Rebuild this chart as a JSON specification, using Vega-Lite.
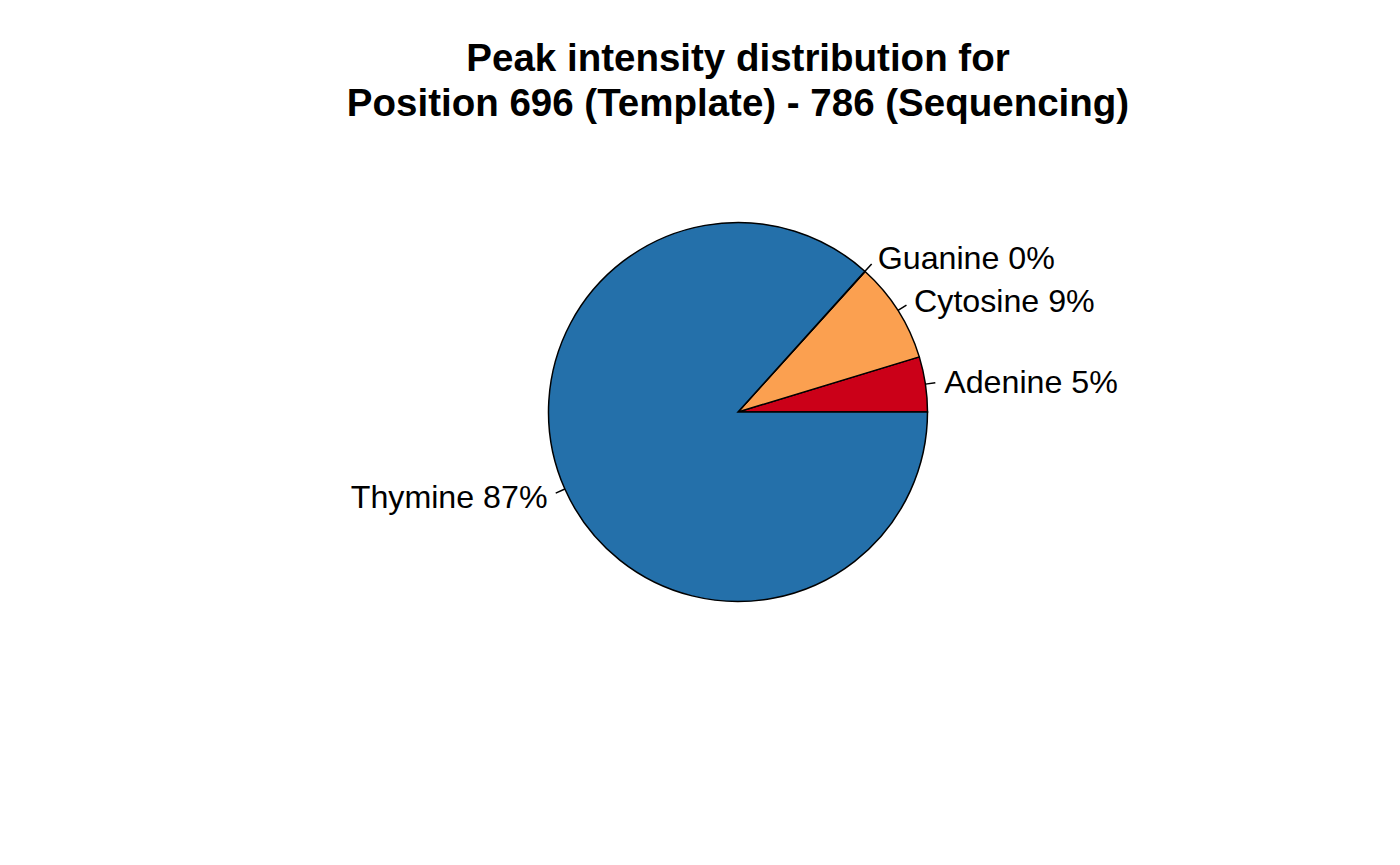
{
  "$schema": "https://vega.github.io/schema/vega-lite/v6.json",
  "autosize": "none",
  "width": 1324,
  "height": 524,
  "padding": {"left": 76, "top": 150, "right": 0, "bottom": 191},
  "background": "white",
  "config": {"view": {"stroke": null}},
  "title": {
    "text": ["Peak intensity distribution for", "Position 696 (Template) - 786 (Sequencing)"],
    "font": "Liberation Sans",
    "fontSize": 38.5,
    "fontWeight": "bold",
    "color": "black",
    "anchor": "middle",
    "lineHeight": 45,
    "offset": 26
  },
  "data": {
    "values": [
      {"order": 1, "name": "Adenine", "value": 4.7, "label": "Adenine 5%"},
      {"order": 2, "name": "Cytosine", "value": 8.6, "label": "Cytosine 9%"},
      {"order": 3, "name": "Guanine", "value": 0.03, "label": "Guanine 0%"},
      {"order": 4, "name": "Thymine", "value": 86.67, "label": "Thymine 87%"}
    ]
  },
  "transform": [
    {"window": [{"op": "sum", "field": "value", "as": "cum"}], "sort": [{"field": "order"}], "frame": [null, 0]},
    {"calculate": "datum.cum - datum.value / 2", "as": "mid"}
  ],
  "layer": [
    {
      "mark": {"type": "arc", "radius": 189.5, "stroke": "black", "strokeWidth": 1.5},
      "encoding": {
        "theta": {"field": "value", "type": "quantitative", "stack": true, "scale": {"domain": [0, 100], "range": [1.5707963, -4.712389]}},
        "order": {"field": "order", "type": "quantitative"},
        "color": {
          "field": "name", "type": "nominal", "legend": null,
          "scale": {"domain": ["Adenine", "Cytosine", "Guanine", "Thymine"], "range": ["#CB0018", "#FBA050", "#2470AA", "#2470AA"]}
        }
      }
    },
    {
      "mark": {"type": "arc", "radius": 189.5, "radius2": 199.5, "stroke": "black", "strokeWidth": 1.5, "fill": null},
      "encoding": {
        "theta": {"field": "mid", "type": "quantitative", "stack": null},
        "theta2": {"field": "mid"}
      }
    },
    {
      "transform": [{"filter": "datum.name !== 'Thymine'"}],
      "mark": {"type": "text", "radius": 208.5, "align": "left", "baseline": "middle", "dy": 2, "font": "Liberation Sans", "fontSize": 32.2, "color": "black"},
      "encoding": {
        "theta": {"field": "mid", "type": "quantitative", "stack": null},
        "text": {"field": "label"}
      }
    },
    {
      "transform": [{"filter": "datum.name === 'Thymine'"}],
      "mark": {"type": "text", "radius": 208.5, "align": "right", "baseline": "middle", "dy": 1, "font": "Liberation Sans", "fontSize": 32.2, "color": "black"},
      "encoding": {
        "theta": {"field": "mid", "type": "quantitative", "stack": null},
        "text": {"field": "label"}
      }
    }
  ]
}
